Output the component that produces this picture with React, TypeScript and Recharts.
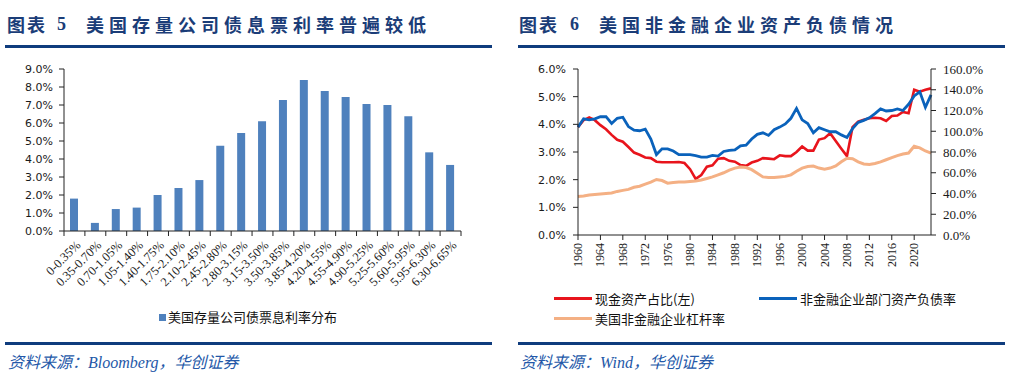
import React from 'react';
import { BarChart, Bar, XAxis, YAxis, LineChart, Line } from 'recharts';

// ---------- Left chart data ----------
const rateBuckets = [
  '0-0.35%', '0.35-0.70%', '0.70-1.05%', '1.05-1.40%', '1.40-1.75%', '1.75-2.10%',
  '2.10-2.45%', '2.45-2.80%', '2.80-3.15%', '3.15-3.50%', '3.50-3.85%', '3.85-4.20%',
  '4.20-4.55%', '4.55-4.90%', '4.90-5.25%', '5.25-5.60%', '5.60-5.95%', '5.95-6.30%',
  '6.30-6.65%',
];
const couponShare = [
  1.8, 0.45, 1.22, 1.3, 2.0, 2.39, 2.83, 4.74, 5.44, 6.1, 7.28, 8.39, 7.78, 7.44, 7.06, 7.0, 6.37, 4.37, 3.67,
];
const barSeriesName = '美国存量公司债票息利率分布';
const barYTicks = [0, 1, 2, 3, 4, 5, 6, 7, 8, 9];

// ---------- Right chart data ----------
const years = [
  1960, 1961, 1962, 1963, 1964, 1965, 1966, 1967, 1968, 1969,
  1970, 1971, 1972, 1973, 1974, 1975, 1976, 1977, 1978, 1979,
  1980, 1981, 1982, 1983, 1984, 1985, 1986, 1987, 1988, 1989,
  1990, 1991, 1992, 1993, 1994, 1995, 1996, 1997, 1998, 1999,
  2000, 2001, 2002, 2003, 2004, 2005, 2006, 2007, 2008, 2009,
  2010, 2011, 2012, 2013, 2014, 2015, 2016, 2017, 2018, 2019,
  2020, 2021, 2022, 2023,
];
// 现金资产占比 (left axis, %)
const cashRatio = [
  3.9, 4.15, 4.25, 4.15, 3.97, 3.82, 3.62, 3.44, 3.37, 3.18,
  2.98, 2.9, 2.8, 2.78, 2.65, 2.63, 2.63, 2.63, 2.64, 2.6,
  2.38, 2.03, 2.17, 2.47, 2.52, 2.76, 2.78, 2.68, 2.65, 2.53,
  2.5, 2.62, 2.68, 2.78, 2.76, 2.74, 2.88, 2.85, 2.85, 3.0,
  3.2, 3.05, 3.05, 3.45, 3.5, 3.68, 3.4, 3.12, 2.85, 3.9,
  4.1, 4.17, 4.22, 4.24, 4.22, 4.12, 4.3, 4.32, 4.45, 4.4,
  5.25, 5.18, 5.25, 5.3,
];
// 非金融企业部门资产负债率 (right axis, %)
const debtRatio = [
  104, 112, 111, 112, 114, 114, 107.5, 112.5, 113.5, 104.5,
  101, 100.5, 102, 92.5, 77.5, 83, 83, 81, 77.5, 77.5,
  77.5, 76.5, 75, 75, 76.7, 76, 80.5, 81.5, 82, 86,
  86.5, 92.5, 97, 98.5, 96, 101.5, 104, 107, 112.5, 122,
  111, 107.5, 98.5, 103.5, 101.5, 99.5, 99.5, 96.5, 94, 102.5,
  108.5, 110.5, 113, 117, 121.5, 119.5, 120, 121.5, 120, 126,
  134, 138, 123, 135,
];
// 美国非金融企业杠杆率 (right axis, %)
const leverage = [
  37, 37.5, 38.5, 39, 39.5, 40, 40.5, 42, 43, 44,
  46, 47, 49, 51, 53.5, 52.5, 50, 50.5, 51, 51,
  51.5, 52, 53, 54.5, 56, 58, 60, 62.5, 64.5, 65.5,
  65, 63, 59.5, 56, 55.5, 55.5, 56, 56.5, 58, 61.5,
  64.5, 66, 66.5, 64.5, 63.5, 64.5, 66.5, 70.5, 74, 73.5,
  70.5, 68.5, 68, 69, 70.5, 72.5, 74.5, 76.5, 78, 79,
  85.5, 84, 81, 79,
];
const lineNames = ['现金资产占比(左)', '非金融企业部门资产负债率', '美国非金融企业杠杆率'];
const yearTicks = [1960, 1964, 1968, 1972, 1976, 1980, 1984, 1988, 1992, 1996, 2000, 2004, 2008, 2012, 2016, 2020];
const leftTicks = [0, 1, 2, 3, 4, 5, 6];
const rightTicks = [0, 20, 40, 60, 80, 100, 120, 140, 160];

const barData = rateBuckets.map((b, i) => ({ bucket: b, value: couponShare[i] }));
const lineData = years.map((y, i) => ({
  year: y,
  cash: cashRatio[i],
  debt: debtRatio[i],
  lev: leverage[i],
}));

// ---------- styles ----------
const NAVY = '#0f3c7d';
const TITLE_COLOR = '#1b3d78';
const SOURCE_COLOR = '#2458a8';
const AXIS = '#222';
const RED = '#e8141c';
const BLUE = '#0a62bb';
const ORANGE = '#f4b084';
const BAR_BLUE = '#4f81bd';

const BAR_PLOT_W = 397;
const BAND = BAR_PLOT_W / rateBuckets.length;

function BucketTick(props: any) {
  const { x, y, payload, index } = props;
  const half = BAND / 2;
  const isLast = index === rateBuckets.length - 1;
  const tx = x + 4;
  const ty = y + 12;
  return (
    <g>
      <line x1={x - half} x2={x - half} y1={y} y2={y + 5} stroke={AXIS} strokeWidth={1} />
      {isLast && <line x1={x + half} x2={x + half} y1={y} y2={y + 5} stroke={AXIS} strokeWidth={1} />}
      <text
        x={tx}
        y={ty}
        transform={`rotate(-45 ${tx} ${ty})`}
        textAnchor="end"
        dominantBaseline="central"
        fontFamily="'Liberation Serif', 'Times New Roman', serif"
        fontSize={12.5}
        fill="#1a1a1a"
      >
        {payload.value}
      </text>
    </g>
  );
}

function YearTick(props: any) {
  const { x, y, payload } = props;
  const ty = y + 8;
  return (
    <g>
      <line x1={x} x2={x} y1={y} y2={y + 5} stroke={AXIS} strokeWidth={1} />
      <text
        x={x}
        y={ty}
        transform={`rotate(-90 ${x} ${ty})`}
        textAnchor="end"
        dominantBaseline="central"
        fontFamily="'Liberation Serif', 'Times New Roman', serif"
        fontSize={12}
        fill="#1a1a1a"
      >
        {payload.value}
      </text>
    </g>
  );
}

const abs = (left: number, top: number, extra: React.CSSProperties = {}): React.CSSProperties => ({
  position: 'absolute',
  left,
  top,
  ...extra,
});

const titleFont: React.CSSProperties = {
  fontFamily: "'Noto Sans CJK SC', sans-serif",
  fontWeight: 700,
  fontSize: 18,
  color: TITLE_COLOR,
  lineHeight: '20px',
  whiteSpace: 'nowrap',
};

const sourceFont: React.CSSProperties = {
  fontFamily: "'Liberation Serif', 'Noto Sans CJK SC', serif",
  fontStyle: 'italic',
  fontSize: 16,
  color: SOURCE_COLOR,
  lineHeight: '20px',
  whiteSpace: 'nowrap',
};

const legendFont: React.CSSProperties = {
  fontFamily: "'Noto Sans CJK SC', sans-serif",
  fontSize: 13,
  color: '#111',
  lineHeight: '16px',
  whiteSpace: 'nowrap',
};

export default function App() {
  return (
    <div style={{ position: 'absolute', left: 0, top: 0, width: 1024, height: 384, background: '#fff', overflow: 'hidden' }}>
      {/* Titles */}
      <div style={abs(7, 14, { ...titleFont, letterSpacing: 2 })}>图表</div>
      <div style={abs(57, 14, { ...titleFont, fontFamily: "'Liberation Serif', serif" })}>5</div>
      <div style={abs(86, 14, { ...titleFont, letterSpacing: 5 })}>美国存量公司债息票利率普遍较低</div>
      <div style={abs(519, 14, { ...titleFont, letterSpacing: 2 })}>图表</div>
      <div style={abs(570, 14, { ...titleFont, fontFamily: "'Liberation Serif', serif" })}>6</div>
      <div style={abs(599, 14, { ...titleFont, letterSpacing: 5 })}>美国非金融企业资产负债情况</div>

      {/* Rules */}
      <div style={abs(5, 45, { width: 487, height: 3, background: NAVY })} />
      <div style={abs(518, 45, { width: 487, height: 3, background: NAVY })} />
      <div style={abs(5, 342, { width: 487, height: 3, background: NAVY })} />
      <div style={abs(518, 342, { width: 487, height: 3, background: NAVY })} />

      {/* Sources */}
      <div style={abs(8, 353, sourceFont)}>资料来源：Bloomberg，华创证券</div>
      <div style={abs(520, 353, sourceFont)}>资料来源：Wind，华创证券</div>

      {/* Left chart */}
      <div style={abs(0, 0)}>
        <BarChart width={500} height={384} data={barData} margin={{ top: 69, right: 39, bottom: 93, left: 0 }}>
          <XAxis
            dataKey="bucket"
            type="category"
            height={60}
            interval={0}
            tickLine={false}
            tickSize={0}
            tickMargin={0}
            tick={<BucketTick />}
            axisLine={{ stroke: AXIS, strokeWidth: 1 }}
          />
          <YAxis
            width={64}
            domain={[0, 9]}
            ticks={barYTicks}
            interval={0}
            tickSize={5}
            tickMargin={6}
            tickFormatter={(v: number) => v.toFixed(1) + '%'}
            tick={{ fontFamily: "'DejaVu Sans', sans-serif", fontSize: 11, fill: '#1a1a1a' }}
            tickLine={{ stroke: AXIS }}
            axisLine={{ stroke: AXIS, strokeWidth: 1 }}
          />
          <Bar dataKey="value" name={barSeriesName} fill={BAR_BLUE} barSize={8} isAnimationActive={false} />
        </BarChart>
      </div>
      {/* Left legend */}
      <div style={abs(159, 314, { width: 7, height: 7, background: BAR_BLUE })} />
      <div style={abs(168, 309, legendFont)}>{barSeriesName}</div>

      {/* Right chart */}
      <div style={abs(512, 0)}>
        <LineChart width={512} height={384} data={lineData} margin={{ top: 69, right: 0, bottom: 109, left: 0 }}>
          <XAxis
            dataKey="year"
            type="number"
            domain={[1960, 2023]}
            ticks={yearTicks}
            interval={0}
            height={40}
            tickLine={false}
            tickSize={0}
            tickMargin={0}
            tick={<YearTick />}
            axisLine={{ stroke: AXIS, strokeWidth: 1 }}
          />
          <YAxis
            yAxisId="left"
            orientation="left"
            width={66}
            domain={[0, 6]}
            ticks={leftTicks}
            interval={0}
            tickSize={5}
            tickMargin={7}
            tickFormatter={(v: number) => v.toFixed(1) + '%'}
            tick={{ fontFamily: "'DejaVu Sans', sans-serif", fontSize: 11, fill: '#1a1a1a' }}
            tickLine={{ stroke: AXIS }}
            axisLine={{ stroke: AXIS, strokeWidth: 1 }}
          />
          <YAxis
            yAxisId="right"
            orientation="right"
            width={93}
            domain={[0, 160]}
            ticks={rightTicks}
            interval={0}
            tickSize={5}
            tickMargin={7}
            tickFormatter={(v: number) => v.toFixed(1) + '%'}
            tick={{ fontFamily: "'Liberation Serif', serif", fontSize: 13, fill: '#1a1a1a' }}
            tickLine={{ stroke: AXIS }}
            axisLine={{ stroke: AXIS, strokeWidth: 1 }}
          />
          <Line yAxisId="left" type="linear" dataKey="cash" name={lineNames[0]} stroke={RED} strokeWidth={2.6} dot={false} isAnimationActive={false} />
          <Line yAxisId="right" type="linear" dataKey="debt" name={lineNames[1]} stroke={BLUE} strokeWidth={2.8} dot={false} isAnimationActive={false} />
          <Line yAxisId="right" type="linear" dataKey="lev" name={lineNames[2]} stroke={ORANGE} strokeWidth={3} dot={false} isAnimationActive={false} />
        </LineChart>
      </div>
      {/* Right legend */}
      <div style={abs(554, 297, { width: 38, height: 3, background: RED })} />
      <div style={abs(595, 291, legendFont)}>{lineNames[0]}</div>
      <div style={abs(759, 297, { width: 38, height: 3, background: BLUE })} />
      <div style={abs(800, 291, legendFont)}>{lineNames[1]}</div>
      <div style={abs(554, 317, { width: 38, height: 3, background: ORANGE })} />
      <div style={abs(595, 311, legendFont)}>{lineNames[2]}</div>
    </div>
  );
}
